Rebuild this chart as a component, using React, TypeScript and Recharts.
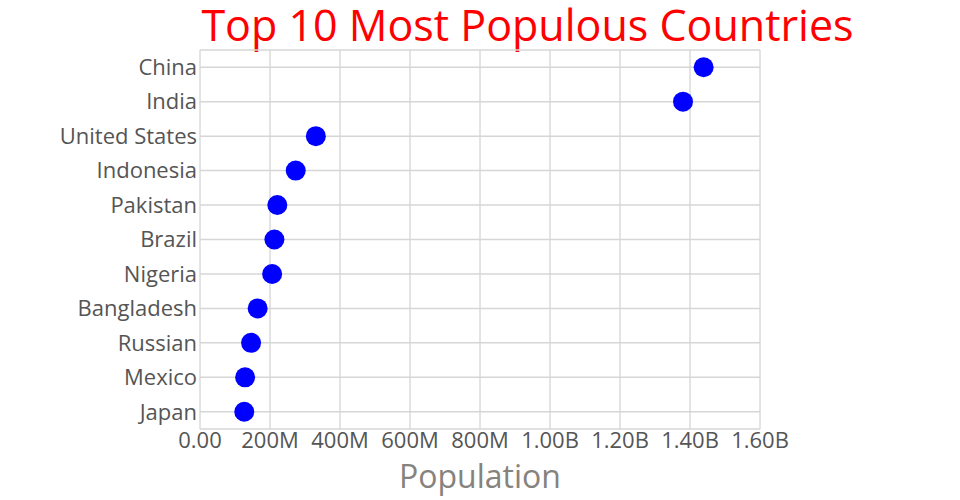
import { ScatterChart, Scatter, XAxis, YAxis, CartesianGrid } from 'recharts'

const countries = ['China', 'India', 'United States', 'Indonesia', 'Pakistan', 'Brazil', 'Nigeria', 'Bangladesh', 'Russian', 'Mexico', 'Japan']
const population = [1439e6, 1380e6, 331e6, 273.5e6, 220.9e6, 212.6e6, 206.1e6, 164.7e6, 145.9e6, 128.9e6, 126.5e6]
const xTicks = [0, 200e6, 400e6, 600e6, 800e6, 1000e6, 1200e6, 1400e6, 1600e6]

const data = countries.map((country, i) => ({ country, population: population[i] }))

const fmt = (v: number) => {
  if (v === 0) return '0.00'
  if (v < 1e9) return `${Math.round(v / 1e6)}M`
  return `${(v / 1e9).toFixed(2)}B`
}

const Dot = (p: any) => <circle cx={p.cx} cy={p.cy} r={10} fill="#0000ff" />

export default function App() {
  return (
    <div style={{ position: 'absolute', left: 0, top: 0, width: 960, height: 500, fontFamily: '"Open Sans", sans-serif', background: '#fff' }}>
      <svg width={960} height={60} style={{ position: 'absolute', left: 0, top: 0 }}>
        <text x={527.5} y={40.5} textAnchor="middle" fontSize={43} fill="#ff0000">
          Top 10 Most Populous Countries
        </text>
      </svg>
      <ScatterChart width={960} height={500} margin={{ top: 50, right: 200, bottom: 0, left: 10 }}>
        <CartesianGrid horizontal={false} stroke="#c8c8c8" />
        <CartesianGrid vertical={false} stroke="#d6d6d6" strokeWidth={1.5} />
        <XAxis
          type="number"
          dataKey="population"
          domain={[0, 1.6e9]}
          ticks={xTicks}
          tickFormatter={fmt}
          axisLine={false}
          tickLine={false}
          tickSize={0}
          tickMargin={3}
          height={71}
          tick={{ fontSize: 22, fill: '#555' }}
          label={{ value: 'Population', position: 'insideBottom', offset: 12, fontSize: 32, fill: '#86827d' }}
        />
        <YAxis
          type="category"
          dataKey="country"
          reversed
          width={190}
          axisLine={false}
          tickLine={false}
          tickSize={0}
          tickMargin={3}
          interval={0}
          tick={{ fontSize: 22, fill: '#555' }}
        />
        <Scatter data={data} shape={Dot} isAnimationActive={false} />
      </ScatterChart>
    </div>
  )
}
